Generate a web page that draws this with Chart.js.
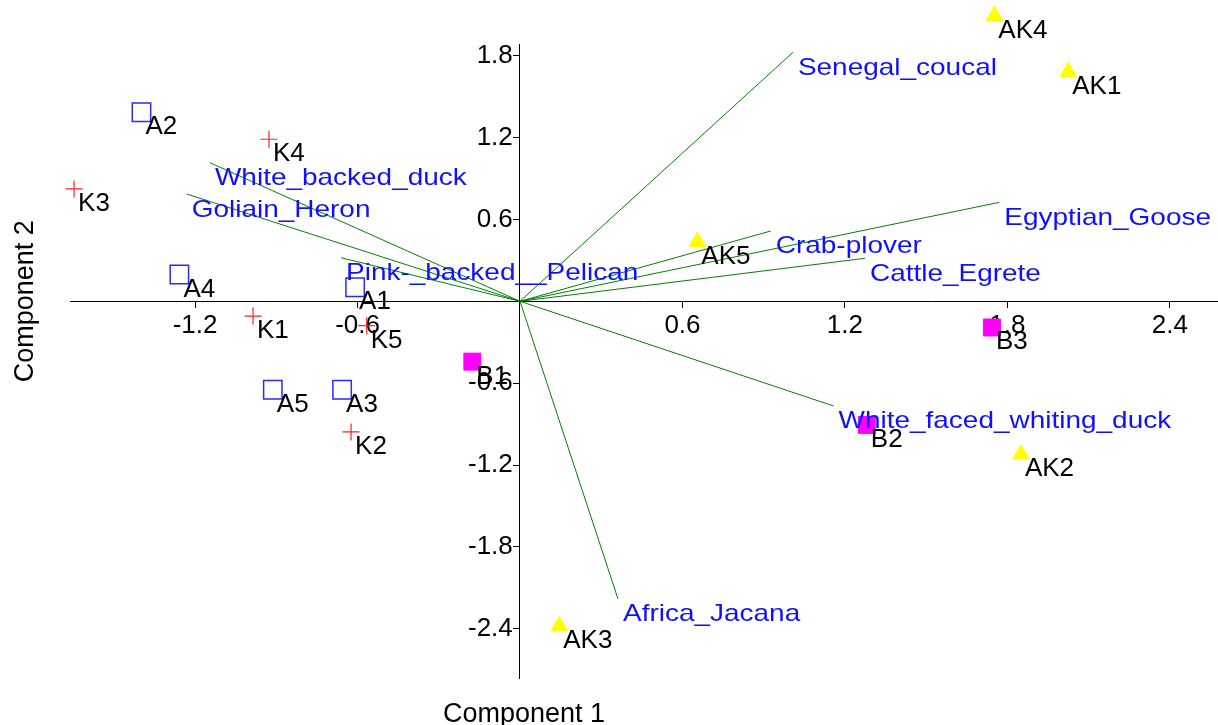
<!DOCTYPE html>
<html>
<head>
<meta charset="utf-8">
<script src="https://cdn.jsdelivr.net/npm/chart.js@4"></script>
<style>
  html, body { margin: 0; padding: 0; background: #fff; }
  #wrap { width: 1218px; height: 725px; }
</style>
</head>
<body>
<div id="wrap"><canvas id="biplot" width="1218" height="725"></canvas></div>
<script>
// scores
var aNames = ['A1', 'A2', 'A3', 'A4', 'A5'];
var aX = [-0.609, -1.398, -0.657, -1.258, -0.913];
var aY = [0.103, 1.385, -0.648, 0.196, -0.648];

var kNames = ['K1', 'K2', 'K3', 'K4', 'K5'];
var kX = [-0.986, -0.624, -1.647, -0.927, -0.566];
var kY = [-0.108, -0.957, 0.823, 1.187, -0.179];

var bNames = ['B1', 'B2', 'B3'];
var bX = [-0.176, 1.281, 1.743];
var bY = [-0.442, -0.906, -0.192];

var akNames = ['AK1', 'AK2', 'AK3', 'AK4', 'AK5'];
var akX = [2.025, 1.850, 0.145, 1.752, 0.655];
var akY = [1.682, -1.121, -2.379, 2.092, 0.437];

// loadings (biplot vectors)
var species = ['Senegal_coucal', 'Egyptian_Goose', 'Crab-plover', 'Cattle_Egrete',
    'White_backed_duck', 'Goliain_Heron', 'Pink-_backed__Pelican',
    'White_faced_whiting_duck', 'Africa_Jacana'];
var loadX = [1.008, 1.770, 0.926, 1.274, -1.145, -1.231, -0.661, 1.158, 0.362];
var loadY = [1.824, 0.725, 0.515, 0.315, 1.015, 0.786, 0.319, -0.767, -2.181];

var xTicks = [-1.2, -0.6, 0.6, 1.2, 1.8, 2.4];
var yTicks = [-2.4, -1.8, -1.2, -0.6, 0.6, 1.2, 1.8];
var xTitle = 'Component 1';
var yTitle = 'Component 2';

var FONT = '"Liberation Sans", Arial, sans-serif';

function pts(xs, ys) {
    return xs.map(function (x, i) { return { x: x, y: ys[i] }; });
}

var datasets = [
    { label: 'A', data: pts(aX, aY), names: aNames, pointStyle: 'rect', pointRadius: 13,
      backgroundColor: 'rgba(0,0,0,0)', borderColor: '#2a2aff', borderWidth: 1.5 },
    { label: 'K', data: pts(kX, kY), names: kNames, pointStyle: 'cross', pointRadius: 8.5,
      borderColor: '#ff2020', borderWidth: 1.2 },
    { label: 'B', data: pts(bX, bY), names: bNames, pointStyle: 'rect', pointRadius: 12,
      backgroundColor: '#ff00ff', borderColor: '#ff00ff', borderWidth: 1 },
    { label: 'AK', data: pts(akX, akY), names: akNames, pointStyle: 'triangle', pointRadius: 9.5,
      backgroundColor: '#ffff00', borderColor: '#ffff00', borderWidth: 1 }
];
datasets.forEach(function (d) { d.order = 1; d.clip = false; d.pointHoverRadius = d.pointRadius; });

species.forEach(function (name, i) {
    datasets.push({
        type: 'line', label: name, species: true, order: 2, clip: false,
        data: [{ x: 0, y: 0 }, { x: loadX[i], y: loadY[i] }],
        borderColor: '#008000', borderWidth: 1, pointRadius: 0, fill: false
    });
});

// markers outside the axes box (AK4) are still drawn, as in the original
var savedArea = null;
var wideArea = {
    id: 'wideArea',
    beforeDatasetsDraw: function (chart) {
        savedArea = chart.chartArea;
        chart.chartArea = { left: 0, top: 0, right: chart.width, bottom: chart.height,
            width: chart.width, height: chart.height };
    },
    afterDatasetsDraw: function (chart) {
        if (savedArea) chart.chartArea = savedArea;
    }
};

var textPlugin = {
    id: 'biplotText',
    afterDraw: function (chart) {
        var c = chart.ctx, sx = chart.scales.x, sy = chart.scales.y;
        c.save();
        c.textAlign = 'left';
        c.textBaseline = 'alphabetic';

        // point labels
        c.fillStyle = '#000';
        c.font = '26px ' + FONT;
        chart.data.datasets.forEach(function (d) {
            if (!d.names) return;
            d.data.forEach(function (p, i) {
                c.fillText(d.names[i], sx.getPixelForValue(p.x) + 4, sy.getPixelForValue(p.y) + 22);
            });
        });

        // species labels at vector tips
        c.fillStyle = '#1010ff';
        c.font = '24px ' + FONT;
        species.forEach(function (name, i) {
            c.save();
            c.translate(sx.getPixelForValue(loadX[i]) + 5, sy.getPixelForValue(loadY[i]) + 22.5);
            c.scale(1.165, 1);
            c.fillText(name, 0, 0);
            c.restore();
        });

        // axis titles
        c.fillStyle = '#000';
        c.font = '27px ' + FONT;
        c.textAlign = 'center';
        c.fillText(xTitle, sx.getPixelForValue(0) + 4, chart.height - 3);
        c.translate(33, sy.getPixelForValue(0));
        c.rotate(-Math.PI / 2);
        c.fillText(yTitle, 0, 0);
        c.restore();
    }
};

function noBox(s) {
    if (s.isHorizontal()) s.height = 0; else s.width = 0;
    s.paddingLeft = s.paddingRight = s.paddingTop = s.paddingBottom = 0;
}

var ctx = document.getElementById('biplot').getContext('2d');
new Chart(ctx, {
    type: 'scatter',
    data: { datasets: datasets },
    options: {
        responsive: false,
        devicePixelRatio: 1,
        animation: false,
        events: [],
        layout: { autoPadding: false, padding: { left: 70, right: 0, top: 44, bottom: 47 } },
        plugins: { legend: { display: false }, tooltip: { enabled: false } },
        scales: {
            x: {
                type: 'linear', min: -1.662, max: 2.578,
                position: { y: 0 },
                border: { display: true, color: '#000', width: 1 },
                grid: { drawOnChartArea: false, drawTicks: true, tickLength: 6, color: '#000' },
                ticks: {
                    color: '#000', padding: 3, maxRotation: 0, autoSkip: false,
                    font: { family: FONT, size: 26 },
                    callback: function (v) { return Number(v).toFixed(1); }
                },
                afterBuildTicks: function (s) { s.ticks = xTicks.map(function (v) { return { value: v }; }); },
                afterFit: noBox
            },
            y: {
                type: 'linear', min: -2.76, max: 1.885,
                position: { x: 0 },
                border: { display: true, color: '#000', width: 1 },
                grid: { drawOnChartArea: false, drawTicks: true, tickLength: 6, color: '#000' },
                ticks: {
                    color: '#000', padding: 3, autoSkip: false,
                    font: { family: FONT, size: 26 },
                    // trailing space keeps the label clear of the tick mark
                    callback: function (v) { return Number(v).toFixed(1) + ' '; }
                },
                afterBuildTicks: function (s) { s.ticks = yTicks.map(function (v) { return { value: v }; }); },
                afterFit: noBox
            }
        }
    },
    plugins: [wideArea, textPlugin]
});
</script>
</body>
</html>
